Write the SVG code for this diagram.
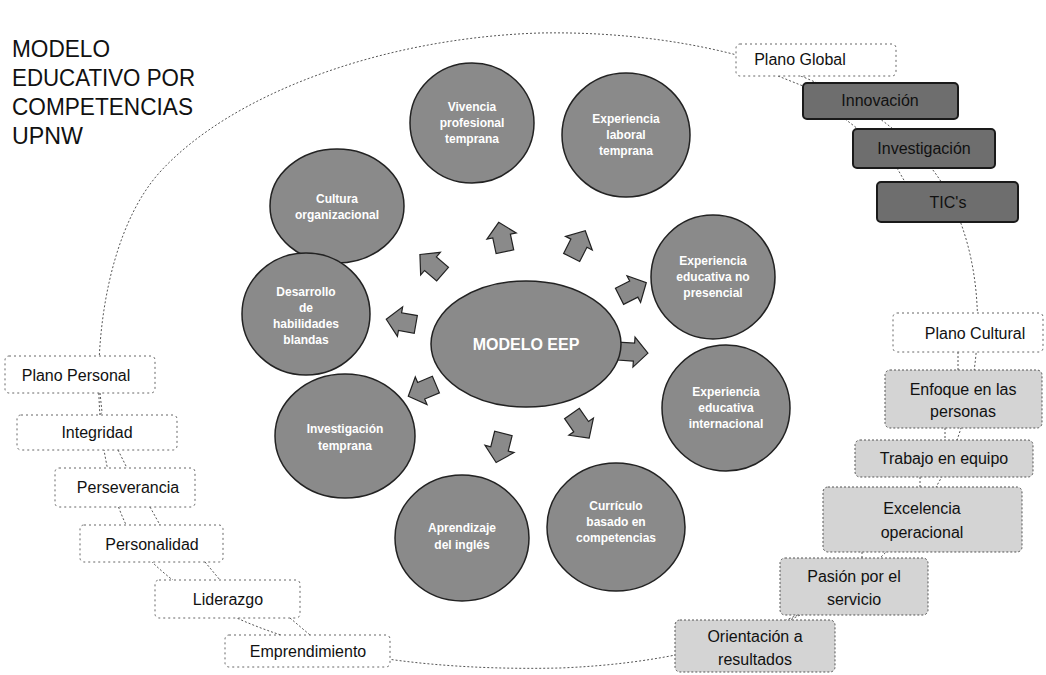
<svg xmlns="http://www.w3.org/2000/svg" width="1046" height="675" viewBox="0 0 1046 675">
<style>
.title{font-family:"Liberation Sans",Arial,sans-serif;font-size:24px;fill:#111}
.ct{font-family:"Liberation Sans",Arial,sans-serif;font-size:12px;fill:#fff;text-anchor:middle;font-weight:bold}
.circ{fill:#8a8a8a;stroke:#222;stroke-width:1.5}
.arrow{fill:#8a8a8a;stroke:#222;stroke-width:1.2}
.dark{fill:#6e6e6e;stroke:#1a1a1a;stroke-width:2}
.light{fill:#d4d4d4;stroke:#555;stroke-width:1;stroke-dasharray:2 2}
.plain{fill:#fff;stroke:#666;stroke-width:1;stroke-dasharray:2 3}
.bt{font-family:"Liberation Sans",Arial,sans-serif;font-size:16px;fill:#111;text-anchor:middle}
.conn{fill:none;stroke:#555;stroke-width:1;stroke-dasharray:2 2}
</style>
<defs>
<path id="arr" d="M0,-16 L15,-2 L9,-2 L9,14 L-9,14 L-9,-2 L-15,-2 Z"/>
</defs>
<g id="frame">
<path class="conn" d="M160,172 C230,95 380,38 540,33 C700,30 870,75 940,180 C990,260 990,380 940,480 C880,590 760,660 560,668 C380,672 230,640 150,560 C80,490 80,260 160,172 Z"/>
</g>
<g id="title">
<text class="title" x="12" y="57" textLength="98" lengthAdjust="spacingAndGlyphs">MODELO</text>
<text class="title" x="12" y="86" textLength="183" lengthAdjust="spacingAndGlyphs">EDUCATIVO POR</text>
<text class="title" x="12" y="115" textLength="181" lengthAdjust="spacingAndGlyphs">COMPETENCIAS</text>
<text class="title" x="12" y="144" textLength="71" lengthAdjust="spacingAndGlyphs">UPNW</text>
</g>
<g id="connectors">
<path class="conn" d="M778,76 L803,86"/>
<path class="conn" d="M845,119 L858,129"/>
<path class="conn" d="M897,168 L905,182"/>
<path class="conn" d="M958,352 L958,370"/>
<path class="conn" d="M945,428 L945,440"/>
<path class="conn" d="M920,477 L920,487"/>
<path class="conn" d="M862,552 L862,558"/>
<path class="conn" d="M800,615 L790,620"/>
<path class="conn" d="M100,393 L102,412 L100,415"/>
<path class="conn" d="M118,450 L127,468"/>
<path class="conn" d="M150,507 L160,525"/>
<path class="conn" d="M205,562 L220,580"/>
<path class="conn" d="M290,618 L310,635"/>
</g>
<g id="arrows">
<use href="#arr" class="arrow" transform="translate(502,238) rotate(-12)"/>
<use href="#arr" class="arrow" transform="translate(578,245) rotate(27)"/>
<use href="#arr" class="arrow" transform="translate(632,290) rotate(63)"/>
<use href="#arr" class="arrow" transform="translate(632,352) rotate(94)"/>
<use href="#arr" class="arrow" transform="translate(580,425) rotate(145)"/>
<use href="#arr" class="arrow" transform="translate(500,447) rotate(194)"/>
<use href="#arr" class="arrow" transform="translate(423,390) rotate(247)"/>
<use href="#arr" class="arrow" transform="translate(402,322) rotate(280)"/>
<use href="#arr" class="arrow" transform="translate(432,265) rotate(311)"/>
</g>
<g id="center">
<ellipse class="circ" cx="526" cy="344" rx="95" ry="63"/>
<text class="ct" x="526" y="350" style="font-size:16px">MODELO EEP</text>
</g>
<g id="c1"><ellipse class="circ" cx="337" cy="206" rx="67" ry="57"/>
<text class="ct" x="337" y="203">Cultura</text><text class="ct" x="337" y="219">organizacional</text></g>
<g id="c2"><ellipse class="circ" cx="472" cy="123" rx="62" ry="60"/>
<text class="ct" x="472" y="111">Vivencia</text><text class="ct" x="472" y="127">profesional</text><text class="ct" x="472" y="143">temprana</text></g>
<g id="c3"><ellipse class="circ" cx="626" cy="135" rx="64" ry="62"/>
<text class="ct" x="626" y="123">Experiencia</text><text class="ct" x="626" y="139">laboral</text><text class="ct" x="626" y="155">temprana</text></g>
<g id="c4"><ellipse class="circ" cx="713" cy="277" rx="62" ry="62"/>
<text class="ct" x="713" y="265">Experiencia</text><text class="ct" x="713" y="281">educativa no</text><text class="ct" x="713" y="297">presencial</text></g>
<g id="c5"><ellipse class="circ" cx="726" cy="408" rx="64" ry="63"/>
<text class="ct" x="726" y="396">Experiencia</text><text class="ct" x="726" y="412">educativa</text><text class="ct" x="726" y="428">internacional</text></g>
<g id="c6"><ellipse class="circ" cx="616" cy="527" rx="69" ry="64"/>
<text class="ct" x="616" y="510">Currículo</text><text class="ct" x="616" y="526">basado en</text><text class="ct" x="616" y="542">competencias</text></g>
<g id="c7"><ellipse class="circ" cx="462" cy="538" rx="67" ry="63"/>
<text class="ct" x="462" y="532">Aprendizaje</text><text class="ct" x="462" y="549">del inglés</text></g>
<g id="c8"><ellipse class="circ" cx="345" cy="436" rx="70" ry="62"/>
<text class="ct" x="345" y="433">Investigación</text><text class="ct" x="345" y="450">temprana</text></g>
<g id="c9"><ellipse class="circ" cx="306" cy="314" rx="64" ry="61"/>
<text class="ct" x="306" y="296">Desarrollo</text><text class="ct" x="306" y="312">de</text><text class="ct" x="306" y="328">habilidades</text><text class="ct" x="306" y="344">blandas</text></g>
<g id="plano-global"><rect class="plain" x="736" y="44" width="160" height="32" rx="4"/>
<text class="bt" x="800" y="65">Plano Global</text></g>
<g id="innovacion"><rect class="dark" x="803" y="83" width="155" height="36" rx="4"/>
<text class="bt" x="880" y="106">Innovación</text></g>
<g id="investigacion"><rect class="dark" x="853" y="129" width="142" height="39" rx="4"/>
<text class="bt" x="924" y="154">Investigación</text></g>
<g id="tics"><rect class="dark" x="877" y="182" width="141" height="40" rx="4"/>
<text class="bt" x="948" y="208">TIC's</text></g>
<g id="plano-cultural"><rect class="plain" x="893" y="313" width="150" height="39" rx="4"/>
<text class="bt" x="975" y="339">Plano Cultural</text></g>
<g id="enfoque"><rect class="light" x="885" y="370" width="157" height="58" rx="5"/>
<text class="bt" x="963" y="395">Enfoque en las</text><text class="bt" x="963" y="417">personas</text></g>
<g id="trabajo"><rect class="light" x="855" y="440" width="178" height="37" rx="5"/>
<text class="bt" x="944" y="464">Trabajo en equipo</text></g>
<g id="excelencia"><rect class="light" x="823" y="487" width="199" height="65" rx="5"/>
<text class="bt" x="922" y="514">Excelencia</text><text class="bt" x="922" y="538">operacional</text></g>
<g id="pasion"><rect class="light" x="780" y="558" width="148" height="57" rx="5"/>
<text class="bt" x="854" y="582">Pasión por el</text><text class="bt" x="854" y="605">servicio</text></g>
<g id="orientacion"><rect class="light" x="675" y="620" width="160" height="52" rx="5"/>
<text class="bt" x="755" y="642">Orientación a</text><text class="bt" x="755" y="665">resultados</text></g>
<g id="plano-personal"><rect class="plain" x="5" y="356" width="150" height="37" rx="4"/>
<text class="bt" x="76" y="381">Plano Personal</text></g>
<g id="integridad"><rect class="plain" x="17" y="415" width="160" height="35" rx="4"/>
<text class="bt" x="97" y="438">Integridad</text></g>
<g id="perseverancia"><rect class="plain" x="55" y="468" width="140" height="39" rx="4"/>
<text class="bt" x="128" y="493">Perseverancia</text></g>
<g id="personalidad"><rect class="plain" x="80" y="525" width="143" height="37" rx="4"/>
<text class="bt" x="152" y="550">Personalidad</text></g>
<g id="liderazgo"><rect class="plain" x="155" y="580" width="145" height="38" rx="4"/>
<text class="bt" x="228" y="605">Liderazgo</text></g>
<g id="emprendimiento"><rect class="plain" x="225" y="635" width="165" height="32" rx="4"/>
<text class="bt" x="308" y="657">Emprendimiento</text></g>
</svg>
